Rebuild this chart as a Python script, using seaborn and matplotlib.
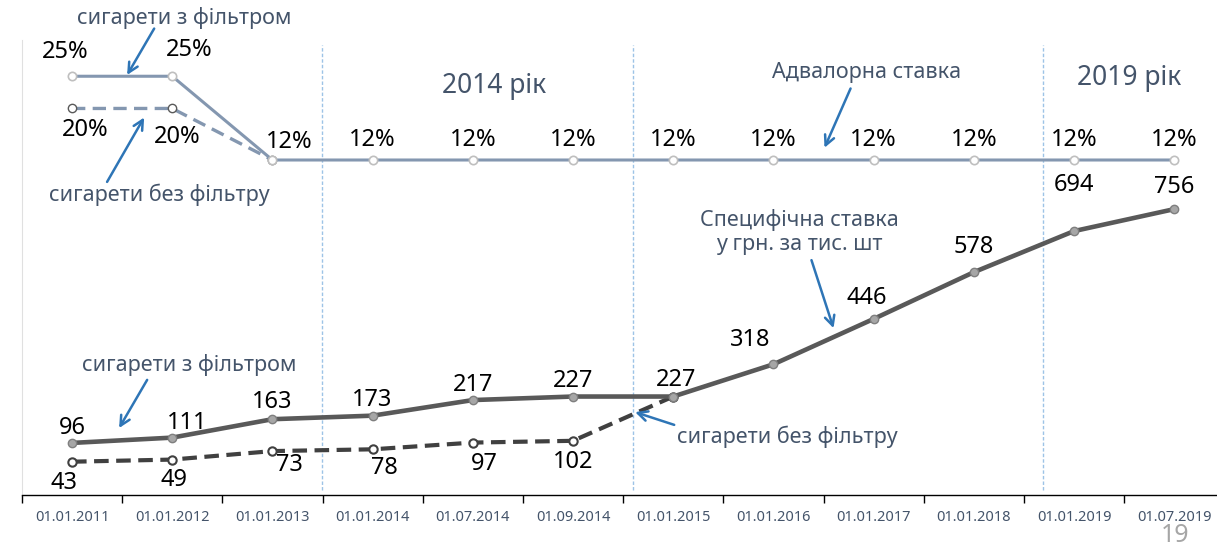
import matplotlib
matplotlib.use('Agg')
import matplotlib.pyplot as plt
import numpy as np
import pandas as pd
import seaborn as sns

# dates on the x axis
dates = ['01.01.2011', '01.01.2012', '01.01.2013', '01.01.2014', '01.07.2014',
         '01.09.2014', '01.01.2015', '01.01.2016', '01.01.2017', '01.01.2018',
         '01.01.2019', '01.07.2019']

# ad valorem rate, %
adval_filter = [25, 25, 12, 12, 12, 12, 12, 12, 12, 12, 12, 12]
adval_nofilter = [20, 20, 12, np.nan, np.nan, np.nan, np.nan, np.nan, np.nan,
                  np.nan, np.nan, np.nan]

# specific rate, UAH per 1000 pcs
spec_filter = [96, 111, 163, 173, 217, 227, 227, 318, 446, 578, 694, 756]
spec_nofilter = [43, 49, 73, 78, 97, 102, 227, np.nan, np.nan, np.nan,
                 np.nan, np.nan]

pos = np.arange(len(dates))
df = pd.DataFrame(dict(pos=pos, adval_f=adval_filter, adval_nf=adval_nofilter,
                       spec_f=spec_filter, spec_nf=spec_nofilter))

sns.set_style('white')
plt.rcParams['font.family'] = ['Noto Sans', 'DejaVu Sans']

TOP = '#8497b0'
DARK = '#595959'
DARK2 = '#404040'
ARROW = '#2e75b6'
TXT = '#44546a'

fig = plt.figure(figsize=(12.17, 5.48), dpi=100)
ax = fig.add_axes([0.018, 0.0967, 0.988, 0.83])
ax2 = ax.twinx()

ax.set_xlim(-0.5, 11.5)
ax.set_ylim(-51, 1233)
ax2.set_ylim(-40, 30.6)

# guide lines between periods
for xv in [2.49, 5.6, 9.69]:
    ax.axvline(xv, ymin=0.01, ymax=0.99, color='#9dc3e6', lw=1,
               linestyle=(0, (2.5, 1.5)), zorder=0)

# bottom: specific rate
sns.lineplot(data=df.dropna(subset=['spec_nf']), x='pos', y='spec_nf', ax=ax,
             color=DARK2, lw=3, linestyle=(0, (3.5, 1.8)), marker='o',
             markersize=6, markerfacecolor='white', markeredgecolor=DARK2,
             markeredgewidth=1.5, zorder=3)
sns.lineplot(data=df, x='pos', y='spec_f', ax=ax, color=DARK, lw=3.3,
             marker='o', markersize=6, markerfacecolor='#a6a6a6',
             markeredgecolor='#7f7f7f', markeredgewidth=1, zorder=4)

# top: ad valorem rate
sns.lineplot(data=df.dropna(subset=['adval_nf']), x='pos', y='adval_nf',
             ax=ax2, color=TOP, lw=2.4, linestyle=(0, (4, 2.2)), marker='o',
             markersize=6, markerfacecolor='white', markeredgecolor='#595959',
             markeredgewidth=1, zorder=3)
sns.lineplot(data=df, x='pos', y='adval_f', ax=ax2, color=TOP, lw=2.2,
             marker='o', markersize=6, markerfacecolor='white',
             markeredgecolor='#bfbfbf', markeredgewidth=1.2, zorder=4)

# value labels (offsets in pixels)
lab_kw = dict(textcoords='offset pixels', ha='center', va='center',
              fontsize=17, color='black')
off_af = [(-7, 24), (17, 26), (17, 18)] + [(0, 20)] * 9
for i, v in enumerate(adval_filter):
    ax2.annotate(f'{v}%', (i, v), xytext=off_af[i], **lab_kw)
off_anf = [(13, -22), (5, -29)]
for i in range(2):
    ax2.annotate(f'{adval_nofilter[i]}%', (i, adval_nofilter[i]),
                 xytext=off_anf[i], **lab_kw)

off_sf = [(0, 15), (15, 15), (0, 17), (0, 16), (0, 15), (0, 16), (3, 17),
          (-23, 24), (-7, 21), (0, 25), (0, 46), (0, 22)]
for i, v in enumerate(spec_filter):
    ax.annotate(str(v), (i, v), xytext=off_sf[i], **lab_kw)
off_snf = [(-8, -21), (2, -20), (17, -14), (12, -19), (12, -21), (0, -21)]
for i in range(6):
    ax.annotate(str(int(spec_nofilter[i])), (i, spec_nofilter[i]),
                xytext=off_snf[i], **lab_kw)

# annotations with arrows
arr = dict(arrowstyle='->,head_length=0.7,head_width=0.35', color=ARROW,
           lw=1.8, shrinkA=0, shrinkB=0)
note_kw = dict(fontsize=15.5, color=TXT, ha='center', va='center')

ax2.text(1.12, 33.98, 'сигарети з фільтром', **note_kw)
ax2.annotate('', xy=(0.55, 25.2), xytext=(0.82, 32.4), arrowprops=arr)
ax2.text(0.87, 6.58, 'сигарети без фільтру', **note_kw)
ax2.annotate('', xy=(0.72, 18.6), xytext=(0.35, 8.6), arrowprops=arr)
ax2.text(7.93, 25.6, 'Адвалорна ставка', **note_kw)
ax2.annotate('', xy=(7.51, 13.9), xytext=(7.77, 23.1), arrowprops=arr)
ax2.text(4.21, 23.5, '2014 рік', fontsize=19, color=TXT, ha='center',
         va='center')
ax2.text(10.55, 24.7, '2019 рік', fontsize=19, color=TXT, ha='center',
         va='center')

ax.text(7.26, 691, 'Специфічна ставка\nу грн. за тис. шт', linespacing=1.2,
        **note_kw)
ax.annotate('', xy=(7.6, 420), xytext=(7.38, 612), arrowprops=arr)
ax.text(1.17, 316, 'сигарети з фільтром', **note_kw)
ax.annotate('', xy=(0.47, 138), xytext=(0.75, 274), arrowprops=arr)
ax.text(6.04, 113, 'сигарети без фільтру', fontsize=15.5, color=TXT,
        ha='left', va='center')
ax.annotate('', xy=(5.62, 183), xytext=(6.01, 147), arrowprops=arr)

# axes styling
ax.set_xticks(pos)
ax.set_xticklabels(dates, fontsize=10.5, color=TXT)
ax.set_xticks(np.arange(-0.5, 12, 1), minor=True)
ax.tick_params(axis='x', which='major', length=0, pad=11)
ax.tick_params(axis='x', which='minor', length=6, width=1, color='black',
               direction='out', bottom=True)
ax.set_yticks([])
ax2.set_yticks([])
ax.set_xlabel('')
ax.set_ylabel('')
ax2.set_ylabel('')
for s in ['top', 'right']:
    ax.spines[s].set_visible(False)
for s in ax2.spines:
    ax2.spines[s].set_visible(False)
ax.spines['left'].set_color('#e0e0e0')
ax.spines['bottom'].set_color('black')
ax.spines['bottom'].set_linewidth(1)

# page number
fig.text(1175 / 1217, 0.0, '19', fontsize=18, color='#a6a6a6',
         ha='center', va='bottom')

fig.savefig('out.png', dpi=100)
